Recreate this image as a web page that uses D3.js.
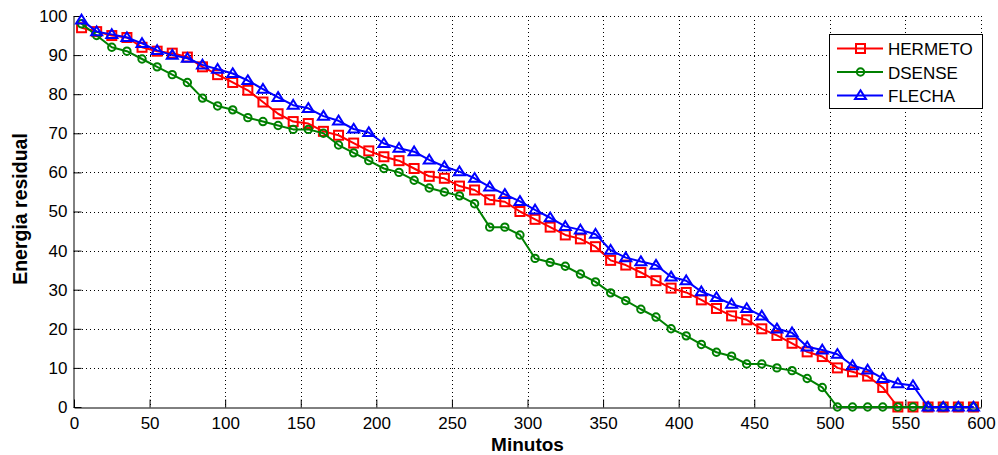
<!DOCTYPE html>
<html>
<head>
<meta charset="utf-8">
<script src="https://cdn.jsdelivr.net/npm/d3@7"></script>
<style>
  html, body { margin: 0; padding: 0; background: #fff; }
  svg { display: block; }
  text { font-family: "Liberation Sans", Arial, sans-serif; fill: #000; }
</style>
</head>
<body>
<svg id="chart" width="998" height="455"></svg>
<script>
// Sampling instants (minutes): 5, 15, ..., 595
const minutes = [5,15,25,35,45,55,65,75,85,95,105,115,125,135,145,155,165,175,185,195,
  205,215,225,235,245,255,265,275,285,295,305,315,325,335,345,355,365,375,385,395,
  405,415,425,435,445,455,465,475,485,495,505,515,525,535,545,555,565,575,585,595];

const hermeto = [97,96,95,94.5,92,91,90.5,89.5,87,85,83,81,78,75,73,72.5,70.5,69.5,67.5,65.5,
  64,63,61,59,58.5,56.5,55.5,53,52.5,50,48,46,44,43,41,37.5,36.3,34.4,32.3,30.4,
  29.3,27.4,25.2,23.3,22.3,20,18.3,16.3,14.1,12.9,10,9,7.9,5,0,0,0,0,0,0];

const dsense = [98,95,92,91,89,87,85,83,79,77,76,74,73,72,71,71,70,67,65,63,
  61,60,58,56,55,54,52,46,46,44,38,37,36,34,32,29.2,27.2,25,23,20,
  18.2,16,14,13,11,11,10,9.3,7.3,5,0,0,0,0,0,0,0,0,0,0];

const flecha = [99,96,95.3,94.5,93,91.2,90,89.2,87.5,86.4,85.3,83.5,81.3,79.2,77.2,76.4,74.4,73.2,71.1,70.2,
  67.4,66.2,65.3,63.2,61.5,60.2,58.5,56.3,54.4,52.6,50.4,48.4,46.2,45.3,44.2,40.1,38.2,37.2,36.3,33.3,
  32.3,29.5,28,26.3,25.2,23.3,20,19,15.4,14.6,13.5,10.6,9.5,7.3,6,5.5,0,0,0,0];

const seriesNames = ["HERMETO", "DSENSE", "FLECHA"];
const seriesColors = ["#ff0000", "#008000", "#0000ff"];
const seriesMarkers = ["square", "circle", "triangle"];
const seriesValues = [hermeto, dsense, flecha];

const xTicks = [0,50,100,150,200,250,300,350,400,450,500,550,600];
const yTicks = [0,10,20,30,40,50,60,70,80,90,100];

const xLabel = "Minutos";
const yLabel = "Energia residual";

// ---- layout ----
const plotLeft = 74, plotRight = 981, plotTop = 16, plotBottom = 407;
const svg = d3.select("#chart");

const x = d3.scaleLinear().domain([0, 600]).range([plotLeft, plotRight]);
const y = d3.scaleLinear().domain([0, 100]).range([plotBottom, plotTop]);

// dotted grid
const grid = svg.append("g").attr("class", "grid")
  .attr("stroke", "#000").attr("stroke-width", 1).attr("stroke-dasharray", "1,3");
grid.selectAll("line.gx").data(xTicks.filter(d => d > 0)).join("line")
  .attr("x1", d => Math.round(x(d)) + 0.5).attr("x2", d => Math.round(x(d)) + 0.5)
  .attr("y1", plotTop).attr("y2", plotBottom);
grid.selectAll("line.gy").data(yTicks.filter(d => d > 0)).join("line")
  .attr("y1", d => Math.round(y(d)) + 0.5).attr("y2", d => Math.round(y(d)) + 0.5)
  .attr("x1", plotLeft).attr("x2", plotRight);

// axes (ticks point inward)
const xAxis = d3.axisBottom(x).tickValues(xTicks).tickSize(-8).tickPadding(9).tickSizeOuter(0);
const yAxis = d3.axisLeft(y).tickValues(yTicks).tickSize(-8).tickPadding(6).tickSizeOuter(0);

const gx = svg.append("g").attr("transform", `translate(0,${plotBottom + 0.5})`).call(xAxis);
const gy = svg.append("g").attr("transform", `translate(${plotLeft - 0.5},0)`).call(yAxis);
[gx, gy].forEach(g => {
  g.select(".domain").attr("stroke", "#000").attr("stroke-width", 1);
  g.selectAll(".tick line").attr("stroke", "#000");
  g.selectAll(".tick text").attr("font-size", 17).attr("fill", "#000")
    .attr("font-family", "'Liberation Sans', Arial, sans-serif");
});

// axis titles
svg.append("text").attr("x", (plotLeft + plotRight) / 2).attr("y", 451)
  .attr("text-anchor", "middle").attr("font-size", 19).attr("font-weight", "bold")
  .text(xLabel);
svg.append("text").attr("transform", `translate(27,${209}) rotate(-90)`)
  .attr("text-anchor", "middle").attr("font-size", 19.5).attr("font-weight", "bold")
  .text(yLabel);

// marker shapes
function drawMarker(g, kind, color) {
  if (kind === "square") {
    g.append("rect").attr("x", -4.5).attr("y", -4.5).attr("width", 9).attr("height", 9)
      .attr("fill", "none").attr("stroke", color).attr("stroke-width", 2);
  } else if (kind === "circle") {
    g.append("circle").attr("r", 3.7)
      .attr("fill", "none").attr("stroke", color).attr("stroke-width", 2);
  } else {
    g.append("path").attr("d", "M0,-5.2L5.5,3.6L-5.5,3.6Z")
      .attr("fill", "none").attr("stroke", color).attr("stroke-width", 2);
  }
}

const line = d3.line().x(d => x(d[0])).y(d => y(d[1]));

seriesValues.forEach((vals, i) => {
  const pts = minutes.map((m, k) => [m, vals[k]]);
  const g = svg.append("g");
  g.append("path").datum(pts).attr("d", line)
    .attr("fill", "none").attr("stroke", seriesColors[i]).attr("stroke-width", 2)
    .attr("stroke-linejoin", "round");
  g.selectAll("g.m").data(pts).join("g")
    .attr("transform", d => `translate(${x(d[0])},${y(d[1])})`)
    .each(function () { drawMarker(d3.select(this), seriesMarkers[i], seriesColors[i]); });
});

// legend
const lg = svg.append("g");
lg.append("rect").attr("x", 829.5).attr("y", 34.5).attr("width", 153).attr("height", 74)
  .attr("fill", "#fff").attr("stroke", "#000").attr("stroke-width", 1);
const rowY = [48.5, 72, 95.5];
seriesNames.forEach((name, i) => {
  lg.append("line").attr("x1", 837).attr("x2", 883).attr("y1", rowY[i]).attr("y2", rowY[i])
    .attr("stroke", seriesColors[i]).attr("stroke-width", 2);
  const mg = lg.append("g").attr("transform", `translate(860.5,${rowY[i]})`);
  drawMarker(mg, seriesMarkers[i], seriesColors[i]);
  lg.append("text").attr("x", 888).attr("y", rowY[i] + 6.5).attr("font-size", 17).text(name);
});
</script>
</body>
</html>
